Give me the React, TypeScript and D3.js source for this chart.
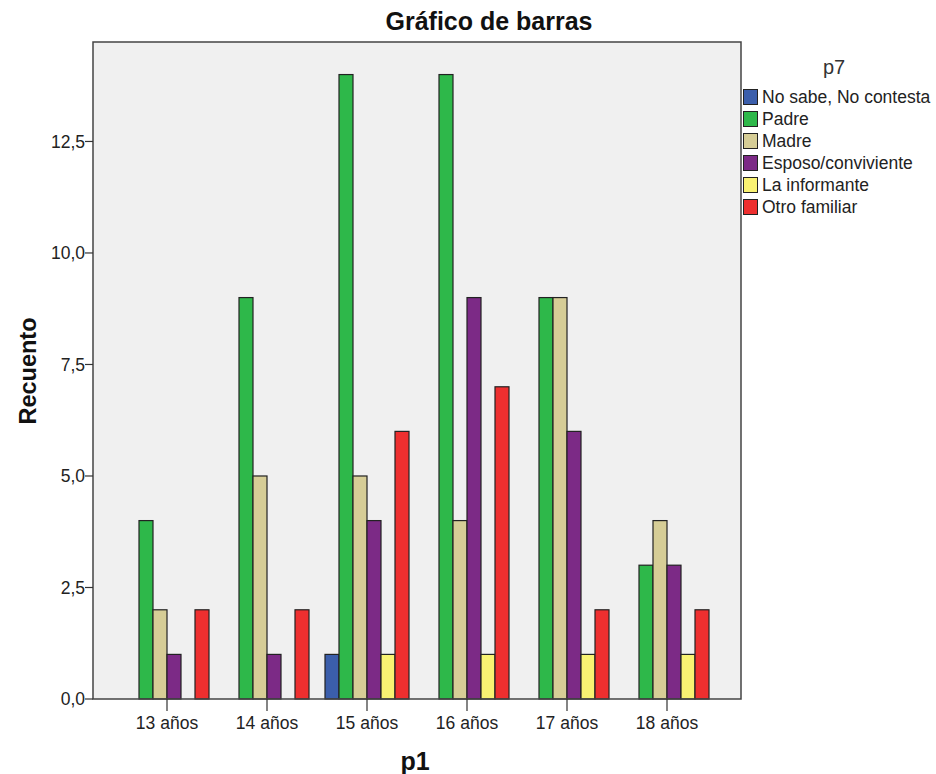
import React from "react";
import * as d3 from "d3";

const categories = ["13 años", "14 años", "15 años", "16 años", "17 años", "18 años"];
const seriesNames = ["No sabe, No contesta", "Padre", "Madre", "Esposo/conviviente", "La informante", "Otro familiar"];
const noSabe = [0, 0, 1, 0, 0, 0];
const padre = [4, 9, 14, 14, 9, 3];
const madre = [2, 5, 5, 4, 9, 4];
const esposo = [1, 1, 4, 9, 6, 3];
const informante = [0, 0, 1, 1, 1, 1];
const otro = [2, 2, 6, 7, 2, 2];
const seriesValues = [noSabe, padre, madre, esposo, informante, otro];
const colors = ["#3b5eab", "#2eb84a", "#d6cd96", "#7c2a86", "#f9f272", "#ee2f2f"];
const yTicks = [0, 2.5, 5, 7.5, 10, 12.5];

export default function App() {
  const W = 936, H = 774;
  const left = 93, right = 741, top = 42, bottom = 699;
  const y = d3.scaleLinear().domain([0, 14.73]).range([bottom, top]);
  const x = d3.scalePoint<string>().domain(categories).range([167, 667]);
  const groupW = 84;
  const xi = d3.scaleBand<string>().domain(seriesNames).range([-groupW / 2, groupW / 2]);
  const fmt = (v: number) => v.toFixed(1).replace(".", ",");
  const font = "'Liberation Sans', Arial, sans-serif";
  return (
    <svg width={W} height={H} style={{ position: "absolute", left: 0, top: 0, background: "#fff" }} fontFamily={font}>
      <rect x={0} y={0} width={W} height={H} fill="#fff" />
      <rect x={left} y={top} width={right - left} height={bottom - top} fill="#f0f0f0" />
      {categories.map((c, ci) =>
        seriesValues.map((vals, si) => {
          const v = vals[ci];
          if (!v) return null;
          return (
            <rect key={c + si} x={(x(c) as number) + (xi(seriesNames[si]) as number)} y={y(v)}
              width={xi.bandwidth()} height={bottom - y(v)} fill={colors[si]} stroke="#222" strokeWidth={1.2} />
          );
        })
      )}
      <rect x={left} y={top} width={right - left} height={bottom - top} fill="none" stroke="#444" strokeWidth={1.5} />
      {yTicks.map((t) => (
        <g key={t}>
          <line x1={left - 8} x2={left} y1={y(t)} y2={y(t)} stroke="#333" strokeWidth={1.2} />
          <text x={left - 8} y={y(t)} dy="0.36em" textAnchor="end" fontSize={17.5} fill="#222">{fmt(t)}</text>
        </g>
      ))}
      {categories.map((c) => {
        const cx = x(c) as number;
        return (
          <g key={c}>
            <line x1={cx} x2={cx} y1={bottom} y2={bottom + 12} stroke="#333" strokeWidth={1.2} />
            <text x={cx} y={729} textAnchor="middle" fontSize={17.5} fill="#222">{c}</text>
          </g>
        );
      })}
      <text x={489} y={30} textAnchor="middle" fontSize={25} fontWeight="bold" fill="#111">Gráfico de barras</text>
      <text x={415} y={770} textAnchor="middle" fontSize={25} fontWeight="bold" fill="#111">p1</text>
      <text transform={`translate(36,${371}) rotate(-90)`} textAnchor="middle" fontSize={23.5} fontWeight="bold" fill="#111">Recuento</text>
      <text x={834} y={74} textAnchor="middle" fontSize={20} fill="#333">p7</text>
      {seriesNames.map((s, i) => (
        <g key={s} transform={`translate(743,${89 + i * 22})`}>
          <rect x={0.5} y={0.5} width={14} height={15} fill={colors[i]} stroke="#222" strokeWidth={1} />
          <text x={19} y={8} dy="0.36em" fontSize={17.5} fill="#222">{s}</text>
        </g>
      ))}
    </svg>
  );
}
